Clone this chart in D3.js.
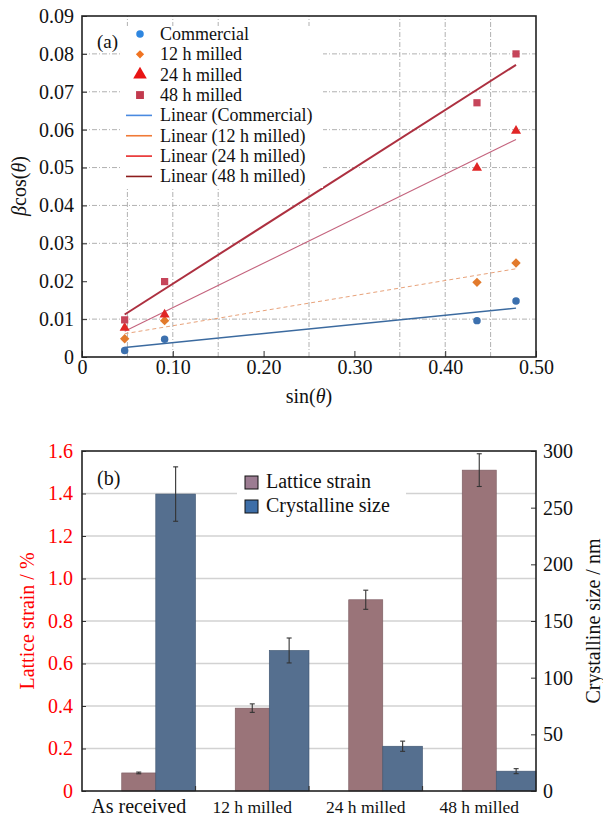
<!DOCTYPE html>
<html lang="en">
<head>
<meta charset="UTF-8" />
<title>Williamson-Hall and strain / size</title>
<style>
  body { margin: 0; background: #fff; }
  svg, svg text { font-family: "Liberation Serif", "Times New Roman", serif; }
  svg { display: block; }
</style>
</head>
<body>
<div id="chart"></div>
<script src="https://d3js.org/d3.v7.min.js"></script>
<script>
  // ---- (a) beta cos(theta) vs sin(theta)
  const sinTheta = [0.047, 0.091, 0.435, 0.478];
  const seriesNames = ["Commercial", "12 h milled", "24 h milled", "48 h milled"];
  const commercial = [0.0017, 0.0047, 0.0096, 0.0148];
  const milled12 = [0.0048, 0.0096, 0.0197, 0.0248];
  const milled24 = [0.0077, 0.0112, 0.0499, 0.0597];
  const milled48 = [0.0098, 0.0199, 0.0671, 0.0800];
  const xTicksA = [0, 0.1, 0.2, 0.3, 0.4, 0.5];
  const yTicksA = [0, 0.01, 0.02, 0.03, 0.04, 0.05, 0.06, 0.07, 0.08, 0.09];
  const xGridA = [0.05, 0.10, 0.15, 0.25, 0.35, 0.40, 0.45];
  const yGridA = [0.01, 0.03, 0.04, 0.05, 0.06, 0.07, 0.08];

  // ---- (b) lattice strain and crystalline size
  const samples = ["As received", "12 h milled", "24 h milled", "48 h milled"];
  const latticeStrain = [0.085, 0.39, 0.90, 1.51];
  const latticeErr = [0.004, 0.02, 0.045, 0.077];
  const crystSize = [262, 124, 39.5, 17.5];
  const crystErr = [24, 11, 4.5, 2.2];
  const strainTicks = [0, 0.2, 0.4, 0.6, 0.8, 1.0, 1.2, 1.4, 1.6];
  const sizeTicks = [0, 50, 100, 150, 200, 250, 300];

  const W = 603, H = 816;
  const svg = d3.select("#chart").append("svg")
    .attr("width", W).attr("height", H);

  // ================= panel (a) =================
  const series = [commercial, milled12, milled24, milled48].map((vals, i) => ({
    name: seriesNames[i],
    points: vals.map((v, j) => ({ x: sinTheta[j], y: v }))
  }));
  const markerColor = ["#3c70ae", "#e27a2c", "#e02626", "#c6455a"];
  const legendMarkerColor = ["#2e86e0", "#f07422", "#e81414", "#c23a4e"];
  const symbolTypes = [d3.symbolCircle, d3.symbolSquare, d3.symbolTriangle, d3.symbolSquare];
  const symbolRot = [0, 45, 0, 0];
  const symbolSize = [44, 44, 44, 52];
  const legendSymbolSize = [44, 34, 80, 62];
  const trendStyle = [
    { color: "#3b6a9f", width: 1.4, dash: null },
    { color: "#e8a27a", width: 1, dash: "4,3" },
    { color: "#c4647e", width: 1.1, dash: null },
    { color: "#ad3040", width: 2, dash: null }
  ];
  const legendLineColor = ["#4a8ae0", "#f07a38", "#e82a2a", "#8c1c1c"];

  const xA = d3.scaleLinear([0, 0.5], [82, 536]);
  const yA = d3.scaleLinear([0, 0.09], [357, 16]);

  const gA = svg.append("g");

  // gridlines
  gA.append("g").selectAll("line").data(xGridA).join("line")
    .attr("x1", d => xA(d)).attr("x2", d => xA(d))
    .attr("y1", yA(0)).attr("y2", yA(0.09))
    .attr("stroke", "#a8a8a8").attr("stroke-width", 0.9)
    .attr("stroke-dasharray", "5,2,1,2");
  gA.append("g").selectAll("line").data(yGridA).join("line")
    .attr("x1", xA(0)).attr("x2", xA(0.5))
    .attr("y1", d => yA(d)).attr("y2", d => yA(d))
    .attr("stroke", "#a8a8a8").attr("stroke-width", 0.9)
    .attr("stroke-dasharray", "5,2,1,2");

  // linear trend lines (least squares)
  function fit(pts) {
    const mx = d3.mean(pts, p => p.x), my = d3.mean(pts, p => p.y);
    const sxy = d3.sum(pts, p => (p.x - mx) * (p.y - my));
    const sxx = d3.sum(pts, p => (p.x - mx) ** 2);
    const b = sxy / sxx;
    return x => my + b * (x - mx);
  }
  series.forEach((s, i) => {
    const f = fit(s.points);
    const x0 = d3.min(sinTheta), x1 = d3.max(sinTheta);
    gA.append("line")
      .attr("x1", xA(x0)).attr("y1", yA(f(x0)))
      .attr("x2", xA(x1)).attr("y2", yA(f(x1)))
      .attr("stroke", trendStyle[i].color)
      .attr("stroke-width", trendStyle[i].width)
      .attr("stroke-dasharray", trendStyle[i].dash);
  });

  // markers
  series.forEach((s, i) => {
    gA.append("g").selectAll("path").data(s.points).join("path")
      .attr("d", d3.symbol(symbolTypes[i], symbolSize[i]))
      .attr("transform", d => `translate(${xA(d.x)},${yA(d.y)}) rotate(${symbolRot[i]})`)
      .attr("fill", markerColor[i]);
  });

  // axes
  const axA_x = gA.append("g").attr("transform", `translate(0,${yA(0)})`)
    .call(d3.axisBottom(xA).tickValues(xTicksA).tickSize(-6).tickPadding(3)
      .tickFormat(d => d === 0 ? "0" : d3.format(".2f")(d)));
  const axA_y = gA.append("g").attr("transform", `translate(${xA(0)},0)`)
    .call(d3.axisLeft(yA).tickValues(yTicksA).tickSize(-5).tickPadding(8)
      .tickFormat(d => d === 0 ? "0" : d3.format(".2f")(d)));
  [axA_x, axA_y].forEach(a => {
    a.attr("font-family", null).attr("font-size", null);
    a.select(".domain").remove();
    a.selectAll("line").attr("stroke", "#333");
    a.selectAll("text").attr("font-size", 20).attr("fill", "#111");
  });

  gA.append("rect")
    .attr("x", xA(0)).attr("y", yA(0.09))
    .attr("width", xA(0.5) - xA(0)).attr("height", yA(0) - yA(0.09))
    .attr("fill", "none").attr("stroke", "#222").attr("stroke-width", 1.6);

  // legend (a)
  const legA = gA.append("g");
  legA.append("rect").attr("x", 120).attr("y", 26).attr("width", 203).attr("height", 162)
    .attr("fill", "#fff");
  const rowH = 20.35, row0 = 34;
  seriesNames.forEach((n, i) => {
    const cy = row0 + i * rowH;
    legA.append("path")
      .attr("d", d3.symbol(symbolTypes[i], legendSymbolSize[i]))
      .attr("transform", `translate(140,${cy}) rotate(${symbolRot[i]})`)
      .attr("fill", legendMarkerColor[i]);
    legA.append("text").attr("x", 160).attr("y", cy + 6)
      .attr("font-size", 18).attr("fill", "#111").text(n);
  });
  seriesNames.forEach((n, i) => {
    const cy = row0 + (i + 4) * rowH;
    legA.append("line").attr("x1", 126).attr("x2", 152).attr("y1", cy).attr("y2", cy)
      .attr("stroke", legendLineColor[i]).attr("stroke-width", 1.6);
    legA.append("text").attr("x", 160).attr("y", cy + 6)
      .attr("font-size", 18).attr("fill", "#111").text(`Linear (${n})`);
  });
  gA.append("text").attr("x", 97).attr("y", 48).attr("font-size", 19).attr("fill", "#111").text("(a)");

  // axis titles
  gA.append("text").attr("x", 309).attr("y", 403).attr("text-anchor", "middle")
    .attr("font-size", 20).attr("fill", "#111")
    .call(t => {
      t.append("tspan").text("sin(");
      t.append("tspan").attr("font-style", "italic").text("θ");
      t.append("tspan").text(")");
    });
  gA.append("text").attr("transform", "translate(26,186) rotate(-90)")
    .attr("text-anchor", "middle").attr("font-size", 20).attr("fill", "#111")
    .call(t => {
      t.append("tspan").attr("font-style", "italic").text("β");
      t.append("tspan").text("cos(");
      t.append("tspan").attr("font-style", "italic").text("θ");
      t.append("tspan").text(")");
    });

  // ================= panel (b) =================
  const xB = d3.scaleBand(samples, [82, 536]);
  const yL = d3.scaleLinear([0, 1.6], [791, 451]);
  const yR = d3.scaleLinear([0, 300], [791, 451]);
  const bw = xB.bandwidth();
  const gB = svg.append("g");

  gB.append("g").selectAll("line").data(strainTicks.slice(1, -1)).join("line")
    .attr("x1", 82).attr("x2", 536)
    .attr("y1", d => yL(d)).attr("y2", d => yL(d))
    .attr("stroke", "#d2d2d2").attr("stroke-width", 1.5);

  const barData = samples.map((s, i) => ({
    s, strain: latticeStrain[i], sErr: latticeErr[i], size: crystSize[i], zErr: crystErr[i]
  }));

  gB.append("g").selectAll("rect").data(barData).join("rect")
    .attr("x", d => xB(d.s) + 0.35 * bw).attr("width", 0.30 * bw)
    .attr("y", d => yL(d.strain)).attr("height", d => yL(0) - yL(d.strain))
    .attr("fill", "#9a7479").attr("stroke", "#7b5a60").attr("stroke-width", 0.6);
  gB.append("g").selectAll("rect").data(barData).join("rect")
    .attr("x", d => xB(d.s) + 0.65 * bw).attr("width", 0.35 * bw)
    .attr("y", d => yR(d.size)).attr("height", d => yR(0) - yR(d.size))
    .attr("fill", "#556f8f").attr("stroke", "#3d536e").attr("stroke-width", 0.6);

  function errBar(g, cx, yTop, yBot) {
    g.append("line").attr("x1", cx).attr("x2", cx).attr("y1", yTop).attr("y2", yBot);
    g.append("line").attr("x1", cx - 2.5).attr("x2", cx + 2.5).attr("y1", yTop).attr("y2", yTop);
    g.append("line").attr("x1", cx - 2.5).attr("x2", cx + 2.5).attr("y1", yBot).attr("y2", yBot);
  }
  const errG = gB.append("g").attr("stroke", "#333").attr("stroke-width", 1.1);
  barData.forEach(d => {
    errBar(errG, xB(d.s) + 0.5 * bw, yL(d.strain + d.sErr), yL(d.strain - d.sErr));
    errBar(errG, xB(d.s) + 0.825 * bw, yR(d.size + d.zErr), yR(d.size - d.zErr));
  });

  // legend (b)
  const legB = gB.append("g");
  legB.append("rect").attr("x", 237).attr("y", 462).attr("width", 169).attr("height", 62)
    .attr("fill", "#fff");
  [["Lattice strain", "#9c7c92"], ["Crystalline size", "#3d6ea8"]].forEach(([t, c], i) => {
    const y0 = 476 + i * 24;
    legB.append("rect").attr("x", 245).attr("y", y0).attr("width", 13).attr("height", 13)
      .attr("fill", c).attr("stroke", "#111").attr("stroke-width", 1);
    legB.append("text").attr("x", 266).attr("y", y0 + 12).attr("font-size", 20)
      .attr("fill", "#111").text(t);
  });
  gB.append("text").attr("x", 97).attr("y", 485).attr("font-size", 20).attr("fill", "#111").text("(b)");

  // axes (b)
  const axL = gB.append("g").attr("transform", "translate(82,0)")
    .call(d3.axisLeft(yL).tickValues(strainTicks).tickSize(-4).tickPadding(9)
      .tickFormat(d => d === 0 ? "0" : d3.format(".1f")(d)));
  axL.selectAll("text").attr("fill", "#ff0000");
  const axR = gB.append("g").attr("transform", "translate(536,0)")
    .call(d3.axisRight(yR).tickValues(sizeTicks).tickSize(-5).tickPadding(7));
  axR.selectAll("text").attr("fill", "#111");
  [axL, axR].forEach(a => {
    a.attr("font-family", null).attr("font-size", null);
    a.select(".domain").remove();
    a.selectAll("line").attr("stroke", "#333");
    a.selectAll("text").attr("font-size", 20);
  });

  // category boundary ticks and labels
  gB.append("g").selectAll("line").data(samples.slice(1)).join("line")
    .attr("x1", d => xB(d)).attr("x2", d => xB(d))
    .attr("y1", yL(0)).attr("y2", yL(0) - 5)
    .attr("stroke", "#333").attr("stroke-width", 1.2);
  gB.append("g").selectAll("text").data(samples).join("text")
    .attr("x", d => xB(d) + bw / 2).attr("y", 813)
    .attr("text-anchor", "middle")
    .attr("font-size", (d, i) => i === 0 ? 20 : 17.5)
    .attr("fill", "#111").text(d => d);

  gB.append("rect")
    .attr("x", 82).attr("y", 451).attr("width", 454).attr("height", 340)
    .attr("fill", "none").attr("stroke", "#222").attr("stroke-width", 1.6);

  gB.append("text").attr("transform", "translate(34,621) rotate(-90)")
    .attr("text-anchor", "middle").attr("font-size", 20).attr("fill", "#ff0000")
    .text("Lattice strain / %");
  gB.append("text").attr("transform", "translate(600,621) rotate(-90)")
    .attr("text-anchor", "middle").attr("font-size", 20).attr("fill", "#111")
    .text("Crystalline size / nm");
</script>
</body>
</html>
